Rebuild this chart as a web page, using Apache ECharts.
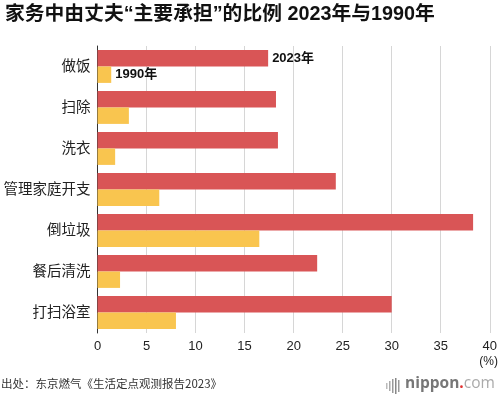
<!DOCTYPE html>
<html>
<head>
<meta charset="utf-8" />
<title>家务中由丈夫“主要承担”的比例</title>
<script src="https://cdn.jsdelivr.net/npm/echarts@6/dist/echarts.min.js"></script>
<style>
  html, body { margin: 0; padding: 0; background: #fff; }
  #main { width: 500px; height: 398px; }
</style>
</head>
<body>
<div id="main"></div>
<script type="text/javascript">
var categories = ['做饭', '扫除', '洗衣', '管理家庭开支', '倒垃圾', '餐后清洗', '打扫浴室'];
var values2023 = [17.4, 18.2, 18.4, 24.3, 38.3, 22.4, 30.0];
var values1990 = [1.4, 3.2, 1.8, 6.3, 16.5, 2.3, 8.0];
var xTicks = [0, 5, 10, 15, 20, 25, 30, 35, 40];

var FONT = '"Liberation Sans", "Noto Sans CJK SC", sans-serif';

// 第一项旁边写系列名
function withLabel(arr, name) {
  return arr.map(function (v, i) {
    if (i !== 0) return v;
    return {
      value: v,
      label: {
        show: true, position: 'right', distance: 4,
        formatter: name, color: '#111', fontSize: 13, fontWeight: 'bold', fontFamily: FONT
      }
    };
  });
}

var chart = echarts.init(document.getElementById('main'));
var option = {
  animation: false,
  textStyle: { fontFamily: FONT },
  title: {
    text: '家务中由丈夫“主要承担”的比例 2023年与1990年',
    left: 0, top: 0,
    textStyle: { fontSize: 19.8, fontWeight: 'bold', color: '#111', fontFamily: FONT }
  },
  grid: { left: 97.5, right: 7.5, top: 46, bottom: 65, containLabel: false },
  xAxis: {
    type: 'value',
    min: xTicks[0], max: xTicks[xTicks.length - 1], interval: 5,
    axisLine: { show: false },
    axisTick: { show: false },
    splitLine: { show: true, lineStyle: { color: '#d6d6d6', width: 1 } },
    axisLabel: { color: '#222', fontSize: 13, margin: 7, fontFamily: FONT }
  },
  yAxis: {
    type: 'category',
    data: categories,
    inverse: true,
    axisLine: { show: true, lineStyle: { color: '#333', width: 1 } },
    axisTick: { show: false },
    axisLabel: { color: '#222', fontSize: 14.5, margin: 7, fontFamily: FONT }
  },
  series: [
    {
      name: '2023年', type: 'bar',
      data: withLabel(values2023, '2023年'),
      itemStyle: { color: '#d95556' },
      barGap: '0%', barCategoryGap: '20%'
    },
    {
      name: '1990年', type: 'bar',
      data: withLabel(values1990, '1990年'),
      itemStyle: { color: '#f9c54f' },
      barGap: '0%', barCategoryGap: '20%'
    }
  ],
  graphic: [
    { type: 'text', right: 2, top: 356,
      style: { text: '(%)', fill: '#222', font: '12px ' + FONT } },
    { type: 'text', left: 1, top: 378,
      style: { text: '出处：东京燃气《生活定点观测报告2023》', fill: '#333', font: '11.5px "Noto Sans CJK SC", sans-serif' } },
    // nippon.com 标志
    { type: 'group', left: 386, top: 378, children: [
      { type: 'rect', shape: { x: 0, y: 5, width: 1.5, height: 6 }, style: { fill: '#bbb' } },
      { type: 'rect', shape: { x: 3, y: 3, width: 1.5, height: 10 }, style: { fill: '#aaa' } },
      { type: 'rect', shape: { x: 6, y: 1, width: 1.5, height: 14 }, style: { fill: '#999' } },
      { type: 'rect', shape: { x: 9, y: 0, width: 1.5, height: 16 }, style: { fill: '#888' } },
      { type: 'rect', shape: { x: 12, y: 2, width: 1.5, height: 12 }, style: { fill: '#999' } }
    ] },
    { type: 'text', left: 405, top: 376,
      style: { rich: {
        a: { fill: '#777', font: 'bold 15.5px "Open Sans", sans-serif' },
        d: { fill: '#e03030', font: 'bold 15.5px "Open Sans", sans-serif' },
        c: { fill: '#aaa', font: '15.5px "Open Sans", sans-serif' }
      }, text: '{a|nippon}{d|.}{c|com}' } }
  ]
};
chart.setOption(option);
</script>
</body>
</html>
